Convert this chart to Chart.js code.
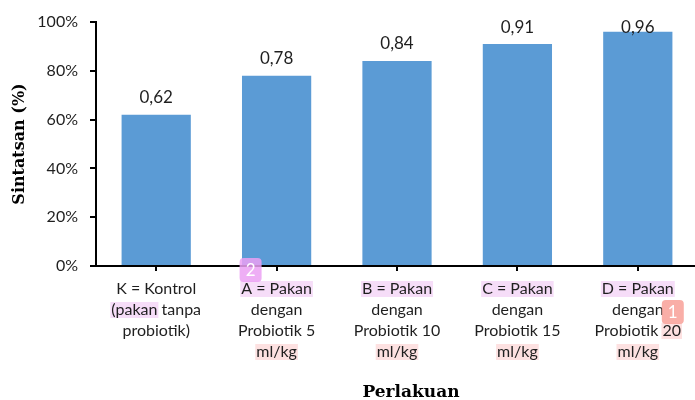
<!DOCTYPE html>
<html>
<head>
<meta charset="utf-8">
<script src="https://cdn.jsdelivr.net/npm/chart.js@4/dist/chart.umd.min.js"></script>
<style>
  html, body { margin: 0; padding: 0; background: #fff; overflow: hidden; }
  #wrap { width: 698px; height: 400px; position: relative; }
</style>
</head>
<body>
<div id="wrap"><canvas id="chart"></canvas></div>
<script>
// Treatments (multi-line category labels)
const categories = [
  ['K = Kontrol', '(pakan tanpa', 'probiotik)'],
  ['A = Pakan', 'dengan', 'Probiotik 5', 'ml/kg'],
  ['B = Pakan', 'dengan', 'Probiotik 10', 'ml/kg'],
  ['C = Pakan', 'dengan', 'Probiotik 15', 'ml/kg'],
  ['D = Pakan', 'dengan', 'Probiotik 20', 'ml/kg']
];

// Survival rate per treatment (fraction)
const survival = [0.62, 0.78, 0.84, 0.91, 0.96];

// Y axis ticks (fraction, shown as percent)
const yTicks = [0, 0.2, 0.4, 0.6, 0.8, 1.0];

// Marked words under the axis: [category, line, text, kind]
const markedWords = [
  [0, 1, '(pakan', 'violet'],
  [1, 0, 'A = Pakan', 'violet'],
  [1, 3, 'ml/kg', 'rose'],
  [2, 0, 'B = Pakan', 'violet'],
  [2, 3, 'ml/kg', 'rose'],
  [3, 0, 'C = Pakan', 'violet'],
  [3, 3, 'ml/kg', 'rose'],
  [4, 0, 'D = Pakan', 'violet'],
  [4, 2, '20', 'rose'],
  [4, 3, 'ml/kg', 'rose']
];

// Note badges: [text, category, kind]
const noteBadges = [
  ['2', 1, 'violet'],
  ['1', 4, 'rose']
];

const TEXT = '#1f1f1f';
const LABEL_FONT = { family: 'Lato', size: 16, lineHeight: '21px' };
const TICK_LEN_X = 5;
const TICK_PAD_X = 7.5;
const markFill = { violet: '#f6ddf8', rose: '#fde1e1' };
const badgeFill = { violet: 'rgba(235,160,243,0.85)', rose: 'rgba(248,160,152,0.85)' };

const fmtValue = v => v.toFixed(2).replace('.', ',');

// Soft highlight boxes behind some category words
const markPlugin = {
  id: 'marks',
  beforeDraw(chart) {
    const { ctx, chartArea } = chart;
    const xs = chart.scales.x;
    ctx.save();
    ctx.font = `${LABEL_FONT.size}px ${LABEL_FONT.family}`;
    const lh = 21;
    markedWords.forEach(([ci, li, word, kind]) => {
      const line = categories[ci][li];
      const idx = line.indexOf(word);
      const cx = xs.getPixelForValue(ci);
      const lw = ctx.measureText(line).width;
      const x0 = cx - lw / 2 + ctx.measureText(line.slice(0, idx)).width;
      const w = ctx.measureText(word).width;
      const cy = chartArea.bottom + TICK_LEN_X + TICK_PAD_X + lh / 2 + li * lh;
      ctx.fillStyle = markFill[kind];
      ctx.fillRect(x0 - 1, cy - 8, w + 2, 16);
    });
    ctx.restore();
  },
  afterDraw(chart) {
    const { ctx, chartArea } = chart;
    const xs = chart.scales.x;
    ctx.save();
    noteBadges.forEach(([txt, ci, kind]) => {
      const cx = xs.getPixelForValue(ci);
      let bx, by;
      if (kind === 'violet') { bx = cx - 37; by = chartArea.bottom - 8; }
      else { bx = cx + 24; by = chartArea.bottom + 34; }
      ctx.fillStyle = badgeFill[kind];
      ctx.beginPath();
      ctx.roundRect(bx, by, 22, 24, 4);
      ctx.fill();
      ctx.fillStyle = '#ffffff';
      ctx.font = '17px Lato';
      ctx.textAlign = 'center';
      ctx.textBaseline = 'middle';
      ctx.fillText(txt, bx + 11, by + 13);
    });
    // x axis title
    ctx.fillStyle = '#000';
    ctx.font = 'bold 17px "DejaVu Serif"';
    ctx.textAlign = 'center';
    ctx.textBaseline = 'alphabetic';
    ctx.fillText('Perlakuan', (chartArea.left + chartArea.right) / 2 + 14, 397);
    ctx.restore();
  }
};

// Value labels above bars (kept inside the plot top)
const valuePlugin = {
  id: 'values',
  afterDatasetsDraw(chart) {
    const { ctx, chartArea } = chart;
    const meta = chart.getDatasetMeta(0);
    ctx.save();
    ctx.font = '17px Lato';
    ctx.fillStyle = TEXT;
    ctx.textAlign = 'center';
    ctx.textBaseline = 'alphabetic';
    meta.data.forEach((bar, i) => {
      const y = Math.max(bar.y - 12, chartArea.top + 11);
      ctx.fillText(fmtValue(survival[i]), bar.x, y);
    });
    ctx.restore();
  }
};

new Chart(document.getElementById('chart'), {
  type: 'bar',
  data: {
    labels: categories,
    datasets: [{
      data: survival,
      backgroundColor: '#5b9bd5',
      borderWidth: 0,
      barPercentage: 0.575,
      categoryPercentage: 1.0
    }]
  },
  options: {
    responsive: true,
    maintainAspectRatio: false,
    animation: false,
    layout: { padding: { top: 22, left: 0, right: 0, bottom: 0 } },
    plugins: { legend: { display: false }, tooltip: { enabled: false } },
    scales: {
      x: {
        offset: true,
        grid: { drawOnChartArea: false, drawTicks: true, tickLength: TICK_LEN_X, offset: false, color: '#000', lineWidth: 2 },
        border: { display: true, color: '#000', width: 2 },
        ticks: { color: TEXT, font: LABEL_FONT, padding: TICK_PAD_X, maxRotation: 0, minRotation: 0, autoSkip: false },
        afterFit: s => { s.height = 134; }
      },
      y: {
        min: 0,
        max: 1,
        afterBuildTicks: s => { s.ticks = yTicks.map(v => ({ value: v })); },
        grid: { drawOnChartArea: false, drawTicks: true, tickLength: 6, color: '#000', lineWidth: 2 },
        border: { display: true, color: '#000', width: 2 },
        ticks: { color: TEXT, font: { family: 'Lato', size: 16 }, padding: 12, callback: v => Math.round(v * 100) + '%' },
        title: { display: true, text: 'Sintatsan (%)', color: '#000', font: { family: 'DejaVu Serif', size: 16, weight: 'bold' }, padding: { top: 10, bottom: 0 } },
        afterFit: s => { s.width = 96; }
      }
    }
  },
  plugins: [markPlugin, valuePlugin]
});
</script>
</body>
</html>
